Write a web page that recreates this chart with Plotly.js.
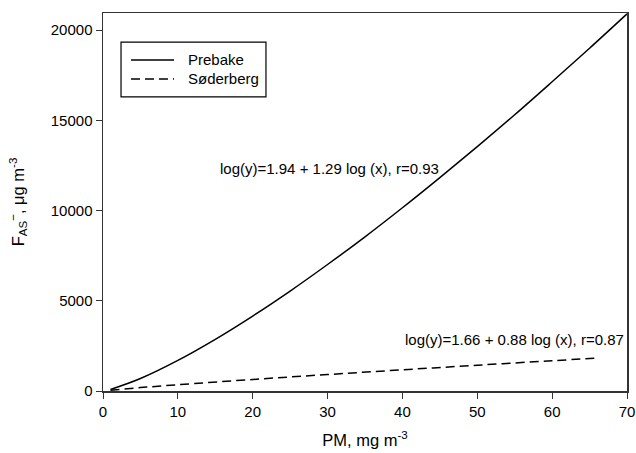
<!DOCTYPE html>
<html>
<head>
<meta charset="utf-8">
<script src="https://cdn.plot.ly/plotly-3.0.1.min.js"></script>
<style>body{margin:0;padding:0;background:#fff;}#chart{width:636px;height:453px;}</style>
</head>
<body>
<div id="chart"></div>
<script>
// Values
const prebakeX = [1, 5, 10, 15, 20, 25, 30, 35, 40, 45, 50, 55, 60, 65, 70];
const prebakeY = [87, 694, 1698, 2866, 4155, 5540, 7011, 8545, 10156, 11828, 13544, 15312, 17141, 18997, 20900];
const soderbergX = [1, 5, 10, 20, 30, 40, 50, 60, 66];
const soderbergY = [46, 188, 347, 638, 912, 1175, 1430, 1679, 1824];
const seriesNames = ['Prebake', 'Søderberg'];
const xTicks = [0, 10, 20, 30, 40, 50, 60, 70];
const yTicks = [0, 5000, 10000, 15000, 20000];
const eqPrebake = 'log(y)=1.94 + 1.29 log (x), r=0.93';
const eqSoderberg = 'log(y)=1.66 + 0.88 log (x), r=0.87';

const font = {family: 'Liberation Sans, Arial, sans-serif', color: '#000'};
const f = (s) => Object.assign({size: s}, font);
const dashStyle = '9px,5px';

const traces = [
  {x: prebakeX, y: prebakeY, name: seriesNames[0], mode: 'lines', line: {color: '#000', width: 1.5, shape: 'spline'}},
  {x: soderbergX, y: soderbergY, name: seriesNames[1], mode: 'lines', line: {color: '#000', width: 1.5, dash: dashStyle, shape: 'spline'}}
];

// custom legend box (paper coordinates)
const lg = {x0: 0.0344, x1: 0.311, y0: 0.778, y1: 0.923, lx0: 0.0534, lx1: 0.1355, tx: 0.1584, rows: [0.8757, 0.8254]};

const layout = {
  width: 636, height: 453,
  margin: {l: 103, r: 9, t: 13, b: 62},
  paper_bgcolor: '#fff', plot_bgcolor: '#fff',
  font: f(15),
  showlegend: false,
  xaxis: {range: [0, 70], tickvals: xTicks, ticks: 'outside', ticklen: 6, tickcolor: '#333',
          showline: true, linecolor: '#333', linewidth: 1.5, mirror: true, showgrid: false, zeroline: false,
          tickfont: f(15),
          title: {text: 'PM, mg m<sup>-3</sup>', font: f(16.5), standoff: 16}},
  yaxis: {range: [0, 20950], tickvals: yTicks, tickformat: 'd', ticks: 'outside', ticklen: 6, tickcolor: '#333',
          showline: true, linecolor: '#333', linewidth: 1.5, mirror: true, showgrid: false, zeroline: false,
          tickfont: f(15),
          title: {text: 'F<sub>AS</sub><sup>\u2212</sup>, \u03bcg m<sup>-3</sup>', font: f(16.5), standoff: 22}},
  shapes: [
    {type: 'rect', xref: 'paper', yref: 'paper', x0: lg.x0, x1: lg.x1, y0: lg.y0, y1: lg.y1, line: {color: '#000', width: 1.2}, fillcolor: '#fff'},
    {type: 'line', xref: 'paper', yref: 'paper', x0: lg.lx0, x1: lg.lx1, y0: lg.rows[0], y1: lg.rows[0], line: {color: '#000', width: 1.5}},
    {type: 'line', xref: 'paper', yref: 'paper', x0: lg.lx0, x1: lg.lx1, y0: lg.rows[1], y1: lg.rows[1], line: {color: '#000', width: 1.5, dash: dashStyle}}
  ],
  annotations: [
    {x: lg.tx, y: lg.rows[0], xref: 'paper', yref: 'paper', xanchor: 'left', yanchor: 'middle', text: seriesNames[0], showarrow: false, font: f(15)},
    {x: lg.tx, y: lg.rows[1], xref: 'paper', yref: 'paper', xanchor: 'left', yanchor: 'middle', text: seriesNames[1], showarrow: false, font: f(15)},
    {x: 30.3, y: 12350, xref: 'x', yref: 'y', text: eqPrebake, showarrow: false, font: f(15)},
    {x: 69.9, y: 2830, xref: 'x', yref: 'y', xanchor: 'right', text: eqSoderberg, showarrow: false, font: f(15)}
  ]
};

Plotly.newPlot('chart', traces, layout, {displayModeBar: false, staticPlot: true});
</script>
</body>
</html>
